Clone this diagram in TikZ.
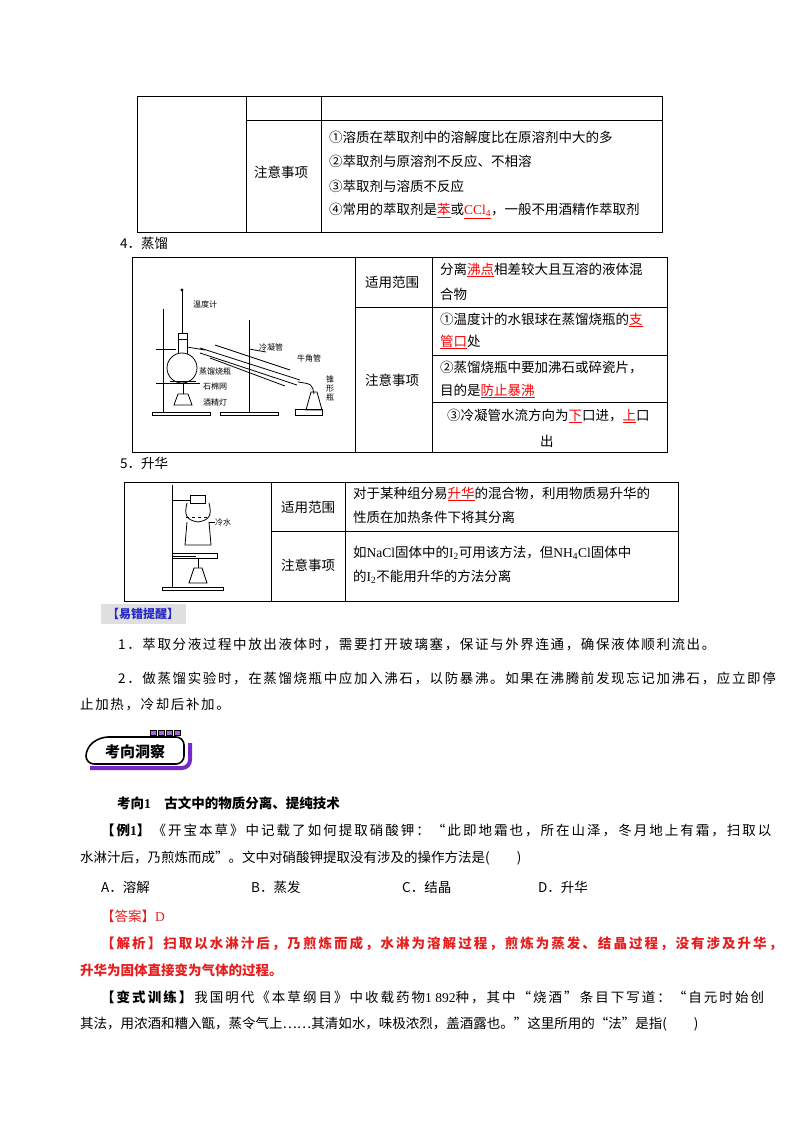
\documentclass[tikz,border=0pt]{standalone}
\usepackage{fontspec}
\setmainfont{Noto Sans CJK SC}
\newfontfamily\tnr{Liberation Serif}
\newfontfamily\kai[LetterSpace=12]{Noto Sans CJK SC}
\newfontfamily\wide[LetterSpace=15]{Noto Sans CJK SC}
\usetikzlibrary{shapes.geometric}
\definecolor{ans}{RGB}{230,30,30}
\definecolor{tip}{RGB}{40,40,200}
\definecolor{pur}{RGB}{120,40,200}
\newcommand{\ru}[1]{\textcolor{red}{\underline{#1}}}
\begin{document}
\begin{tikzpicture}[x=1pt,y=-1pt,
  t/.style={anchor=west,inner sep=0pt,font=\fontsize{13.5}{14}\selectfont},
  w/.style={anchor=west,inner sep=0pt,font=\wide\fontsize{13.5}{14}\selectfont},
  k/.style={anchor=west,inner sep=0pt,font=\kai\fontsize{13.5}{14}\selectfont},
  tb/.style={line width=0.7pt},
  app/.style={line width=0.8pt}]
\useasboundingbox (0,0) rectangle (800,1132);
% ---- table 1
\draw[tb] (137,96) rectangle (662,232);
\draw[tb] (246,96) -- (246,232) (321,96) -- (321,232) (246,120) -- (662,120);
\node[t] (c1) at (254,172) {注意事项};
\node[t] (l1) at (329,137) {①溶质在萃取剂中的溶解度比在原溶剂中大的多};
\node[t] (l2) at (329,161) {②萃取剂与原溶剂不反应、不相溶};
\node[t] (l3) at (329,186) {③萃取剂与溶质不反应};
\node[t] (l4) at (329,211) {④常用的萃取剂是\ru{苯}或\ru{\tnr CCl\textsubscript{4}}，一般不用酒精作萃取剂};
\node[t] (h4) at (120,243) {4．蒸馏};
% ---- table 2
\draw[tb] (132,257) rectangle (667,452);
\draw[tb] (355,257) -- (355,452) (432,257) -- (432,452) (355,307) -- (667,307)
  (432,355) -- (667,355) (432,402) -- (667,402);
\node[t] (s1) at (365,282) {适用范围};
\node[t] (s2) at (365,380) {注意事项};
\node[t] (d1) at (440,270) {分离\ru{沸点}相差较大且互溶的液体混};
\node[t] (d2) at (440,294) {合物};
\node[t] (d3) at (440,320) {①温度计的水银球在蒸馏烧瓶的\ru{支}};
\node[t] (d4) at (440,342) {\ru{管口}处};
\node[t] (d5) at (440,368) {②蒸馏烧瓶中要加沸石或碎瓷片，};
\node[t] (d6) at (440,391) {目的是\ru{防止暴沸}};
\node[t] (d7) at (447,416) {③冷凝管水流方向为\ru{下}口进，\ru{上}口};
\node[t] (d8) at (540,441) {出};
% distillation apparatus
\begin{scope}[app]
 \draw (152,415) rectangle (210,412) (220,415) rectangle (278,412) (295,415) rectangle (322,409);
 \draw (163,412) -- (163,309) (249,412) -- (249,320);
 \draw (182,291) -- (182,333); \fill (182,290) circle (1.6);
 \draw (178,333) rectangle (187,339);
 \draw (178,339) -- (178,354) (187,339) -- (187,354);
 \draw (182,368) circle (15);
 \draw (156,349) -- (176,349) (156,383) -- (200,383);
 \draw (170,381) -- (196,381);
 \draw (187,347) -- (205,350);
 \draw (200,348) -- (300,380) (200,353) -- (297,385);
 \draw (215,345) -- (290,370) (210,358) -- (285,386);
 \draw (249,349) -- (266,352);
 \draw (298,382) .. controls (312,384) .. (314,394);
 \draw (306,410) -- (311,392) -- (317,392) -- (322,410) -- cycle;
 \draw (174,405) -- (178,394) -- (188,394) -- (192,405) -- cycle;
 \draw (183,394) -- (183,384);
\end{scope}
\begin{scope}[font=\fontsize{8}{9}\selectfont,inner sep=0pt,anchor=west]
 \node (a1) at (193,304) {温度计};
 \node (a2) at (259,347) {冷凝管};
 \node (a3) at (297,358) {牛角管};
 \node (a4) at (199,371) {蒸馏烧瓶};
 \node (a5) at (203,386) {石棉网};
 \node (a6) at (203,402) {酒精灯};
 \node[align=center] (a7) at (326,388) {锥\\形\\瓶};
\end{scope}
\node[t] (h5) at (120,463) {5．升华};
% ---- table 3
\draw[tb] (124,482) rectangle (678,601);
\draw[tb] (271,482) -- (271,601) (345,482) -- (345,601) (271,531) -- (678,531);
\node[t] (s3) at (281,507) {适用范围};
\node[t] (s4) at (281,565) {注意事项};
\node[t] (e1) at (353,494) {对于某种组分易\ru{升华}的混合物，利用物质易升华的};
\node[t] (e2) at (353,517) {性质在加热条件下将其分离};
\node[t] (e3) at (353,553) {如{\tnr NaCl}固体中的{\tnr I\textsubscript{2}}可用该方法，但{\tnr NH\textsubscript{4}Cl}固体中};
\node[t] (e4) at (353,577) {的{\tnr I\textsubscript{2}}不能用升华的方法分离};
\begin{scope}[app]
 \draw (162,590) rectangle (223,587);
 \draw (172,587) -- (172,485);
 \draw (172,500) -- (190,500) (172,556) -- (196,556);
 \draw (190,495) rectangle (205,503);
 \draw (187,503) .. controls (184,515) and (186,520) .. (198,522) .. controls (210,520) and (212,515) .. (209,503);
 \draw[dashed] (186,517) -- (210,517);
 \draw (187,522) -- (185,545) -- (211,545) -- (209,522);
 \draw (172,553) rectangle (217,558);
 \draw (189,583) -- (194,568) -- (202,568) -- (207,583) -- cycle;
 \draw (198,568) -- (198,558);
\end{scope}
\node[font=\fontsize{8}{9}\selectfont,inner sep=0pt,anchor=west] (cw) at (215,522) {冷水};
\draw[line width=0.5pt] (cw.west) -- (209,522);
% ---- 易错提醒
\fill[gray!25] (101,604) rectangle (186,624);
\node[inner sep=0pt,text=tip,font=\bfseries\fontsize{12}{13}\selectfont] (yc) at (143,614) {【易错提醒】};
\node[k] (p1) at (118,644) {1．萃取分液过程中放出液体时，需要打开玻璃塞，保证与外界连通，确保液体顺利流出。};
\node[k] (p2) at (118,678) {2．做蒸馏实验时，在蒸馏烧瓶中应加入沸石，以防暴沸。如果在沸腾前发现忘记加沸石，应立即停};
\node[k] (p3) at (80,705) {止加热，冷却后补加。};
% ---- banner
\draw[pur,line width=4pt,rounded corners=8pt] (90,768) -- (190,768) -- (190,743);
\draw[line width=1.6pt,rounded corners=8pt] (86,764) -- (86,748) -- (100,737) -- (184,737) -- (184,764) -- cycle;
\foreach \i in {0,1,2,3} \draw[line width=1pt,fill=pur!70] (150+\i*8,730) rectangle +(6,5);
\node[inner sep=0pt,font=\bfseries\fontsize{15}{16}\selectfont] (bn) at (135,752) {考向洞察};
% ---- example
\node[t,font=\bfseries\fontsize{13.5}{14}\selectfont] (kx) at (117,803) {考向{\tnr 1}\quad 古文中的物质分离、提纯技术};
\node[w] (x1) at (101,830) {\textbf{【例{\tnr 1}】}《开宝本草》中记载了如何提取硝酸钾：“此即地霜也，所在山泽，冬月地上有霜，扫取以};
\node[t] (x2) at (80,858) {水淋汁后，乃煎炼而成”。文中对硝酸钾提取没有涉及的操作方法是(\qquad)};
\node[t] (o1) at (101,887) {A．溶解};
\node[t] (o2) at (251,887) {B．蒸发};
\node[t] (o3) at (402,887) {C．结晶};
\node[t] (o4) at (538,887) {D．升华};
\node[t,text=ans] (an) at (101,916) {【答案】{\tnr D}};
\node[w,text=ans,font=\wide\bfseries\fontsize{13.5}{14}\selectfont] (j1) at (101,944) {【解析】扫取以水淋汁后，乃煎炼而成，水淋为溶解过程，煎炼为蒸发、结晶过程，没有涉及升华，};
\node[t,text=ans,font=\bfseries\fontsize{13.5}{14}\selectfont] (j2) at (80,970) {升华为固体直接变为气体的过程。};
\node[w] (v1) at (101,997) {\textbf{【变式训练】}我国明代《本草纲目》中收载药物{\tnr 1 892}种，其中“烧酒”条目下写道：“自元时始创};
\node[t] (v2) at (80,1024) {其法，用浓酒和糟入甑，蒸令气上……其清如水，味极浓烈，盖酒露也。”这里所用的“法”是指(\qquad)};
\end{tikzpicture}
\end{document}
